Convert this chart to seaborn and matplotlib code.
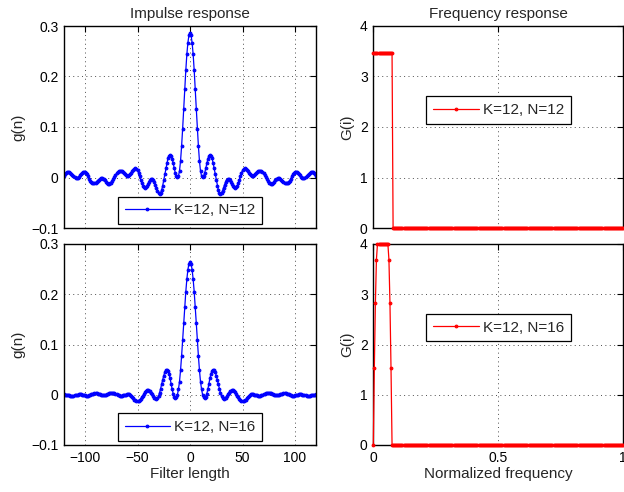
import numpy as np
import matplotlib
import matplotlib.pyplot as plt
import seaborn as sns
from matplotlib.ticker import FuncFormatter

matplotlib.use('Agg')

# sample index of the filter and normalized frequency grid
n = np.arange(-120, 121)
freq = np.linspace(0, 1, 241)

# impulse response, K=12, N=12
g_n12 = [
    0.003,
    0.006, 0.008, 0.010, 0.010, 0.010, 0.008, 0.007, 0.005, 0.002, 0.001,
    -0.001, -0.001, 0.000, 0.001, 0.004, 0.006, 0.009, 0.010, 0.011, 0.010,
    0.008, 0.006, 0.002, -0.002, -0.006, -0.008, -0.010, -0.011, -0.011, -0.010,
    -0.008, -0.006, -0.004, -0.003, -0.001, -0.001, -0.002, -0.003, -0.005, -0.008,
    -0.010, -0.012, -0.012, -0.011, -0.010, -0.007, -0.003, 0.001, 0.004, 0.008,
    0.011, 0.012, 0.013, 0.013, 0.012, 0.010, 0.008, 0.006, 0.005, 0.003,
    0.003, 0.004, 0.006, 0.009, 0.012, 0.015, 0.017, 0.018, 0.017, 0.014,
    0.009, 0.002, -0.004, -0.011, -0.016, -0.019, -0.020, -0.019, -0.017, -0.013,
    -0.009, -0.005, -0.003, -0.002, -0.004, -0.008, -0.014, -0.020, -0.026, -0.031,
    -0.032, -0.030, -0.025, -0.016, -0.005, 0.007, 0.018, 0.029, 0.038, 0.043,
    0.045, 0.043, 0.037, 0.028, 0.018, 0.009, 0.003, 0.001, 0.003, 0.013,
    0.033, 0.062, 0.097, 0.136, 0.175, 0.212, 0.244, 0.267, 0.282,
    0.287,
    0.282, 0.267, 0.244, 0.212, 0.175, 0.136, 0.097, 0.062, 0.033,
    0.013, 0.003, 0.001, 0.003, 0.009, 0.018, 0.028, 0.037, 0.043, 0.045,
    0.043, 0.038, 0.029, 0.018, 0.007, -0.005, -0.016, -0.025, -0.030, -0.032,
    -0.031, -0.026, -0.020, -0.014, -0.008, -0.004, -0.002, -0.003, -0.005, -0.009,
    -0.013, -0.017, -0.019, -0.020, -0.019, -0.016, -0.011, -0.004, 0.002, 0.009,
    0.014, 0.017, 0.018, 0.017, 0.015, 0.012, 0.009, 0.006, 0.004, 0.003,
    0.003, 0.005, 0.006, 0.008, 0.010, 0.012, 0.013, 0.013, 0.012, 0.011,
    0.008, 0.004, 0.001, -0.003, -0.007, -0.010, -0.011, -0.012, -0.012, -0.010,
    -0.008, -0.005, -0.003, -0.002, -0.001, -0.001, -0.003, -0.004, -0.006, -0.008,
    -0.010, -0.011, -0.011, -0.010, -0.008, -0.006, -0.002, 0.002, 0.006, 0.008,
    0.010, 0.011, 0.010, 0.009, 0.006, 0.004, 0.001, 0.000, -0.001, -0.001,
    0.001, 0.002, 0.005, 0.007, 0.008, 0.010, 0.010, 0.010, 0.008, 0.006,
    0.003,
]

# impulse response, K=12, N=16 (bottom-left panel)
g_n16 = [
    0.001,
    0.000, 0.000, 0.000, -0.001, -0.001, -0.002, -0.002, -0.002, -0.002, -0.001,
    -0.001, 0.000, 0.000, 0.001, 0.001, 0.001, 0.000, 0.000, -0.001, -0.001,
    -0.002, -0.002, -0.002, -0.001, -0.001, 0.001, 0.002, 0.002, 0.003, 0.003,
    0.003, 0.002, 0.002, 0.001, 0.000, 0.000, -0.001, -0.001, -0.001, 0.000,
    0.001, 0.002, 0.003, 0.004, 0.004, 0.004, 0.003, 0.003, 0.002, 0.001,
    -0.001, -0.001, -0.002, -0.002, -0.002, -0.001, -0.001, 0.000, 0.000, 0.001,
    0.001, 0.001, -0.001, -0.003, -0.005, -0.007, -0.010, -0.011, -0.013, -0.013,
    -0.012, -0.011, -0.009, -0.005, -0.002, 0.001, 0.005, 0.007, 0.009, 0.009,
    0.008, 0.007, 0.004, 0.001, -0.003, -0.006, -0.007, -0.008, -0.007, -0.003,
    0.004, 0.012, 0.021, 0.030, 0.038, 0.045, 0.049, 0.050, 0.048, 0.042,
    0.033, 0.022, 0.011, 0.002, -0.004, -0.006, -0.005, 0.000, 0.011, 0.026,
    0.049, 0.077, 0.109, 0.142, 0.175, 0.205, 0.230, 0.249, 0.261,
    0.265,
    0.261, 0.249, 0.230, 0.205, 0.175, 0.142, 0.109, 0.077, 0.049,
    0.026, 0.011, 0.000, -0.005, -0.006, -0.004, 0.002, 0.011, 0.022, 0.033,
    0.042, 0.048, 0.050, 0.049, 0.045, 0.038, 0.030, 0.021, 0.012, 0.004,
    -0.003, -0.007, -0.008, -0.007, -0.006, -0.003, 0.001, 0.004, 0.007, 0.008,
    0.009, 0.009, 0.007, 0.005, 0.001, -0.002, -0.005, -0.009, -0.011, -0.012,
    -0.013, -0.013, -0.011, -0.010, -0.007, -0.005, -0.003, -0.001, 0.001, 0.001,
    0.001, 0.000, 0.000, -0.001, -0.001, -0.002, -0.002, -0.002, -0.001, -0.001,
    0.001, 0.002, 0.003, 0.003, 0.004, 0.004, 0.004, 0.003, 0.002, 0.001,
    0.000, -0.001, -0.001, -0.001, 0.000, 0.000, 0.001, 0.002, 0.002, 0.003,
    0.003, 0.003, 0.002, 0.002, 0.001, -0.001, -0.001, -0.002, -0.002, -0.002,
    -0.001, -0.001, 0.000, 0.000, 0.001, 0.001, 0.001, 0.000, 0.000, -0.001,
    -0.001, -0.002, -0.002, -0.002, -0.002, -0.001, -0.001, 0.000, 0.000, 0.000,
    0.001,
]

# frequency responses
G_n12 = [3.46] * 19 + [0.0] * 222
G_n16 = [0.0, 1.53, 2.82, 3.69] + [4.0] * 11 + [3.69, 2.82, 1.53] + [0.0] * 223

labels = ['K=12, N=12', 'K=12, N=16']

sns.set_theme(style='white')
plt.rcParams['font.family'] = ['Liberation Sans', 'DejaVu Sans']
plt.rcParams['axes.unicode_minus'] = True

fig = plt.figure(figsize=(6.24, 4.92), dpi=100)
W, H = 624, 492


def px_axes(x0, y0, x1, y1):
    return fig.add_axes([x0 / W, 1 - y1 / H, (x1 - x0) / W, (y1 - y0) / H])


ax_g1 = px_axes(64, 26, 316, 228)
ax_G1 = px_axes(373.3, 26, 623.3, 228)
ax_g2 = px_axes(64, 244, 316, 445)
ax_G2 = px_axes(373.3, 244, 623.3, 445)

fmt = FuncFormatter(lambda v, p: f'{v:g}'.replace('-', '\u2212'))


def style(ax, xlim, ylim, xticks, yticks, show_x):
    ax.set_xlim(xlim)
    ax.set_ylim(ylim)
    ax.set_xticks(xticks)
    ax.set_yticks(yticks)
    ax.xaxis.set_major_formatter(fmt)
    ax.yaxis.set_major_formatter(fmt)
    ax.grid(True, linestyle=(0, (1, 3.5)), color='0.3', linewidth=0.7)
    ax.tick_params(direction='in', top=True, right=True, length=4, width=0.8,
                   labelsize=10, pad=4, colors='black')
    for s in ax.spines.values():
        s.set_color('black')
        s.set_linewidth(1.0)
    if not show_x:
        ax.tick_params(labelbottom=False)


def add_legend(ax, y):
    leg = ax.legend(loc='center', bbox_to_anchor=(0.5, y), frameon=True, fancybox=False,
                    edgecolor='black', framealpha=1, fontsize=11, handlelength=3.0,
                    handletextpad=0.25, borderpad=0.45)
    leg.get_frame().set_linewidth(0.9)


line_kw = dict(marker='.', markersize=4, linewidth=0.9)

sns.lineplot(x=n, y=g_n12, ax=ax_g1, color='blue', markeredgecolor='blue',
             label=labels[0], **line_kw)
sns.lineplot(x=n, y=g_n16, ax=ax_g2, color='blue', markeredgecolor='blue',
             label=labels[1], **line_kw)
sns.lineplot(x=freq, y=G_n12, ax=ax_G1, color='red', markeredgecolor='red',
             label=labels[0], clip_on=False, zorder=5, **line_kw)
sns.lineplot(x=freq, y=G_n16, ax=ax_G2, color='red', markeredgecolor='red',
             label=labels[1], clip_on=False, zorder=5, **line_kw)

for ax, show in [(ax_g1, False), (ax_g2, True)]:
    style(ax, (-120, 120), (-0.1, 0.3), [-100, -50, 0, 50, 100], [-0.1, 0, 0.1, 0.2, 0.3], show)
    ax.set_ylabel('g(n)', fontsize=11)
for ax, show in [(ax_G1, False), (ax_G2, True)]:
    style(ax, (0, 1), (0, 4), [0, 0.5, 1], [0, 1, 2, 3, 4], show)
    ax.set_ylabel('G(i)', fontsize=11)

ax_g1.set_title('Impulse response', fontsize=11, pad=6)
ax_G1.set_title('Frequency response', fontsize=11, pad=6)
ax_g2.set_xlabel('Filter length', fontsize=11, labelpad=2)
ax_G2.set_xlabel('Normalized frequency', fontsize=11, labelpad=2)

add_legend(ax_g1, 0.087)
add_legend(ax_g2, 0.09)
add_legend(ax_G1, 0.584)
add_legend(ax_G2, 0.584)

fig.savefig('out.png', dpi=100)
plt.close(fig)
